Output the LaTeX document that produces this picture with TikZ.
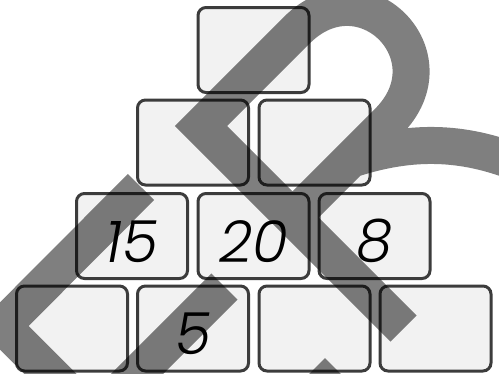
\documentclass[tikz,border=0pt]{standalone}
\usepackage{fontspec}
\usepackage{tikz}
\newfontfamily\digitfont{Poppins Light Italic}
\definecolor{brickfill}{HTML}{F2F2F2}
\definecolor{brickline}{HTML}{3C3C3C}
\tikzset{
    brick/.style={
        rectangle,
        rounded corners=8pt,
        draw=brickline,
        fill=brickfill,
        line width=3pt,
        minimum width=111pt,
        minimum height=85pt,
        inner sep=0pt,
        text height=53pt,
        font=\fontsize{58}{62}\selectfont\digitfont
    },
    stamp/.style={
        black,
        opacity=0.5,
        line width=37pt,
        line join=miter
    }
}

\begin{document}
\begin{tikzpicture}[x=1pt, y=-1pt]
    \useasboundingbox (0,0) rectangle (499,373);
    \clip (0,0) rectangle (499,373);

    % Top row
    \node[brick] (top) at (253.5,50) {};

    % Second row
    \node[brick] (mid1) at (193,142.5) {};
    \node[brick] (mid2) at (314.5,142.5) {};

    % Third row
    \node[brick] (row1) at (132,236) {15};
    \node[brick] (row2) at (253.5,236) {20};
    \node[brick] (row3) at (374.5,236) {8};

    % Bottom row
    \node[brick] (base1) at (72,328.5) {};
    \node[brick] (base2) at (193,328.5) {5};
    \node[brick] (base3) at (314.5,328.5) {};
    \node[brick] (base4) at (435.5,328.5) {};

    % Watermark over the bricks
    \draw[stamp]
        (403.5,328.5) -- (201,126) -- (296.75,30.25)
        .. controls (362.75,-35.75) and (454.25,55.75) .. (388.25,121.75)
        -- (292.5,217.5)
        (355,158) .. controls (400,144) and (450,138) .. (510,160)
        (141,187) -- (2.5,326) -- (70,393.5)
        (224.5,286.5) -- (120,391)
        (280,429) -- (325,384.2) -- (370,429);
\end{tikzpicture}
\end{document}
